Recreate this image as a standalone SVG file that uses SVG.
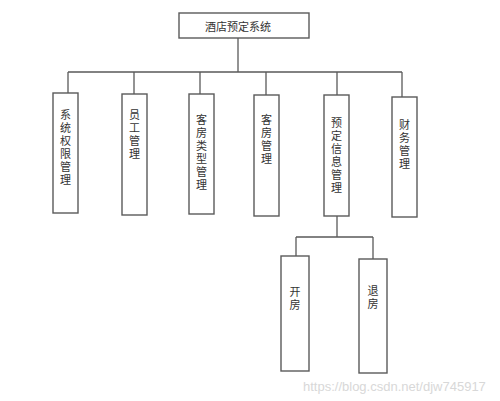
<svg xmlns="http://www.w3.org/2000/svg" width="500" height="401" viewBox="0 0 500 401">
<style>
.box{fill:#fff;stroke:#5a5a5a;stroke-width:1.4}
.ln{fill:none;stroke:#5a5a5a;stroke-width:1.3}
.t{font-family:"Noto Sans CJK SC","Noto Sans",sans-serif;font-size:11px;fill:#333;text-anchor:middle}
.v{font-family:"Noto Sans CJK SC","Noto Sans",sans-serif;font-size:11px;fill:#333;writing-mode:tb;letter-spacing:2px}
.wm{font-family:"Liberation Sans",Arial,sans-serif;font-size:13px;fill:#d8d8d8}
</style>
<rect width="500" height="401" fill="#fff"/>
<g id="connectors">
<path class="ln" d="M238 38V72M68 72H402M68 72V93M134 72V94M200 72V94M266 72V95M337 72V95M402 72V97"/>
<path class="ln" d="M337 216V237M296 237H373M296 237V256M373 237V259"/>
</g>
<g id="root"><rect class="box" x="179" y="13" width="130" height="25"/><text class="t" x="238" y="31">酒店预定系统</text></g>
<g id="n1"><rect class="box" x="53" y="93" width="25" height="120"/><text class="v" x="65.5" y="109">系统权限管理</text></g>
<g id="n2"><rect class="box" x="122" y="94" width="25" height="121"/><text class="v" x="134.5" y="109">员工管理</text></g>
<g id="n3"><rect class="box" x="189" y="94" width="25" height="120"/><text class="v" x="201.5" y="114">客房类型管理</text></g>
<g id="n4"><rect class="box" x="254" y="95" width="25" height="121"/><text class="v" x="266.5" y="114">客房管理</text></g>
<g id="n5"><rect class="box" x="324" y="95" width="25" height="121"/><text class="v" x="336.5" y="117">预定信息管理</text></g>
<g id="n6"><rect class="box" x="392" y="97" width="25" height="120"/><text class="v" x="404.5" y="119">财务管理</text></g>
<g id="n7"><rect class="box" x="281" y="256" width="28" height="115"/><text class="v" x="295" y="286">开房</text></g>
<g id="n8"><rect class="box" x="359" y="259" width="28" height="114"/><text class="v" x="373" y="285">退房</text></g>
<text class="wm" x="303" y="391">https://blog.csdn.net/djw745917</text>
</svg>
